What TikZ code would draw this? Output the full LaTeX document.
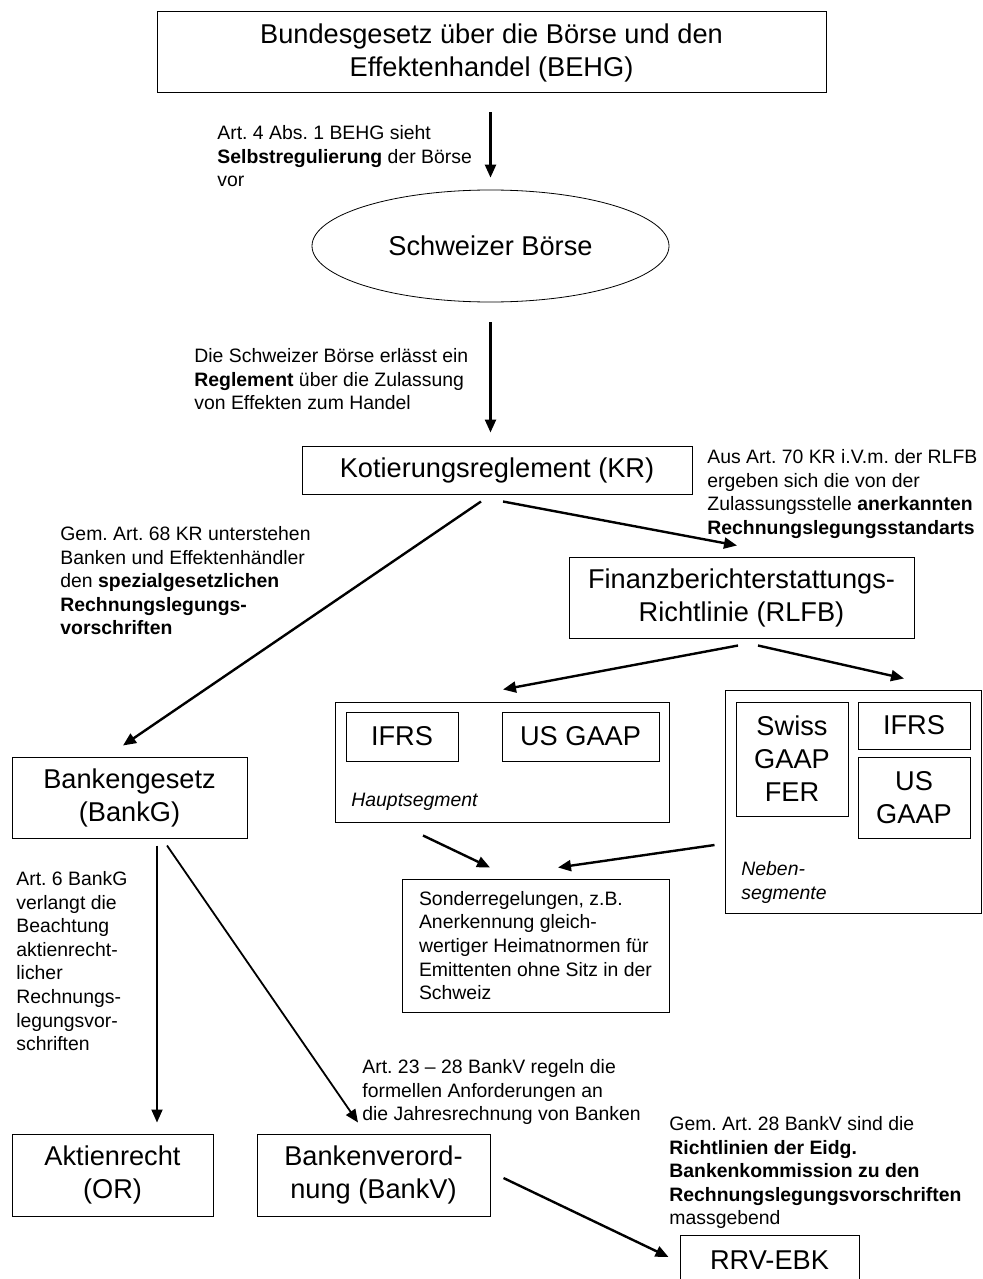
\documentclass[tikz,border=0pt]{standalone}
\usepackage{fontspec}
\setmainfont{Liberation Sans}
\usetikzlibrary{shapes.geometric,arrows.meta}
\frenchspacing

\begin{document}
\begin{tikzpicture}[x=0.5pt,y=-0.5pt,
  box/.style={draw,line width=0.5pt,align=center,inner sep=0pt,font=\fontsize{13.6}{16.5}\selectfont},
  oval/.style={draw,ellipse,line width=0.4pt,inner sep=0pt,font=\fontsize{13.6}{16.5}\selectfont},
  note/.style={anchor=north west,align=left,inner sep=0pt,font=\fontsize{9.7}{11.8}\selectfont},
  arr/.style={line width=1.2pt,-{Triangle[length=6.5pt,width=5.5pt]}},
  thinarr/.style={line width=0.9pt,-{Triangle[length=6.5pt,width=5.5pt]}}]
\useasboundingbox (0,0) rectangle (982,1279);

\node[box,minimum width=334.5pt,minimum height=40.5pt] (behg) at (491.5,52.5) {Bundesgesetz über die Börse und den\\ Effektenhandel (BEHG)};
\node[oval,minimum width=178.5pt,minimum height=56pt] (boerse) at (490.5,246) {Schweizer Börse};
\node[box,minimum width=195pt,minimum height=24pt] (kr) at (497,470) {Kotierungsreglement (KR)};
\node[box,minimum width=172.5pt,minimum height=40.5pt] (rlfb) at (741.5,597.5) {Finanzberichterstattungs-\\ Richtlinie (RLFB)};
\node[box,minimum width=117.5pt,minimum height=40.5pt] (bankg) at (129.5,797.5) {Bankengesetz\\ (BankG)};

\node[box,minimum width=167pt,minimum height=60pt] (haupt) at (502,762) {};
\node[box,minimum width=56pt,minimum height=24.5pt] (ifrsa) at (402,736.5) {IFRS};
\node[box,minimum width=78.5pt,minimum height=24.5pt] (usgaapa) at (580.5,736.5) {US GAAP};
\node[note,font=\fontsize{9.7}{11.8}\selectfont\itshape] (hauptlbl) at (351,793) {Hauptsegment};

\node[box,minimum width=128pt,minimum height=111.5pt] (neben) at (853,801.5) {};
\node[box,minimum width=56pt,minimum height=57pt] (swiss) at (792,759) {Swiss\\ GAAP\\ FER};
\node[box,minimum width=56pt,minimum height=23.5pt] (ifrsb) at (914,725.5) {IFRS};
\node[box,minimum width=56pt,minimum height=40.5pt] (usgaapb) at (914,797.5) {US\\ GAAP};
\node[note,font=\fontsize{9.7}{11.8}\selectfont\itshape] (nebenlbl) at (741,861) {Neben-\\ segmente};

\node[box,align=left,minimum width=133.5pt,minimum height=66.5pt,font=\fontsize{9.7}{11.8}\selectfont] (sonder) at (535.5,945.5) {Sonderregelungen, z.B.\\ Anerkennung gleich-\\ wertiger Heimatnormen für\\ Emittenten ohne Sitz in der\\ Schweiz};

\node[box,minimum width=100.5pt,minimum height=41pt] (or) at (112.5,1175) {Aktienrecht\\ (OR)};
\node[box,minimum width=116.5pt,minimum height=41pt] (bankv) at (373.5,1175) {Bankenverord-\\ nung (BankV)};
\node[box,minimum width=89.5pt,minimum height=25pt] (rrv) at (769.5,1260) {RRV-EBK};

\node[note] (n1) at (217,125) {Art. 4 Abs. 1 BEHG sieht\\ \textbf{Selbstregulierung} der Börse\\ vor};
\node[note] (n2) at (194,348) {Die Schweizer Börse erlässt ein\\ \textbf{Reglement} über die Zulassung\\ von Effekten zum Handel};
\node[note] (n3) at (707,449) {Aus Art. 70 KR i.V.m. der RLFB\\ ergeben sich die von der\\ Zulassungsstelle \textbf{anerkannten}\\ \textbf{Rechnungslegungsstandarts}};
\node[note] (n4) at (60,526) {Gem. Art. 68 KR unterstehen\\ Banken und Effektenhändler\\ den \textbf{spezialgesetzlichen}\\ \textbf{Rechnungslegungs-}\\ \textbf{vorschriften}};
\node[note] (n5) at (16,871) {Art. 6 BankG\\ verlangt die\\ Beachtung\\ aktienrecht-\\ licher\\ Rechnungs-\\ legungsvor-\\ schriften};
\node[note] (n6) at (362,1059) {Art. 23 – 28 BankV regeln die\\ formellen Anforderungen an\\ die Jahresrechnung von Banken};
\node[note] (n7) at (669,1116) {Gem. Art. 28 BankV sind die\\ \textbf{Richtlinien der Eidg.}\\ \textbf{Bankenkommission zu den}\\ \textbf{Rechnungslegungsvorschriften}\\ massgebend};

\draw[arr] ([yshift=-9.5pt]boerse.north |- behg.south) -- ([yshift=6pt]boerse.north);
\draw[arr] ([yshift=-10pt]boerse.south) -- ([yshift=6.5pt]boerse.south |- kr.north);
\draw[arr] ([xshift=-8pt,yshift=-3.5pt]kr.south) -- ([xshift=-3.25pt,yshift=5.5pt]bankg.north);
\draw[arr] ([xshift=3pt,yshift=-3.5pt]kr.south) -- ([xshift=-2.25pt,yshift=5.5pt]rlfb.north);
\draw[arr] ([xshift=-1.75pt,yshift=-3.5pt]rlfb.south) -- ([xshift=0.5pt,yshift=6pt]haupt.north);
\draw[arr] ([xshift=8.25pt,yshift=-3.5pt]rlfb.south) -- ([xshift=25.5pt,yshift=5.5pt]neben.north);
\draw[arr] ([xshift=-39.5pt,yshift=-6.5pt]haupt.south) -- ([xshift=-22.75pt,yshift=5.5pt]sonder.north);
\draw[arr] ([xshift=-5pt,yshift=-21.75pt]neben.west) -- ([xshift=11.25pt,yshift=5.5pt]sonder.north);

\draw[thinarr] ([xshift=13.75pt,yshift=-3.5pt]bankg.south) -- ([xshift=22.25pt,yshift=5.5pt]or.north);
\draw[thinarr] ([xshift=18.75pt,yshift=-3.5pt]bankg.south) -- ([xshift=-7.75pt,yshift=5.5pt]bankv.north);
\draw[arr] ([xshift=6.5pt,yshift=-1.5pt]bankv.east) -- ([xshift=-5.5pt,yshift=1.5pt]rrv.west);
\end{tikzpicture}
\end{document}
